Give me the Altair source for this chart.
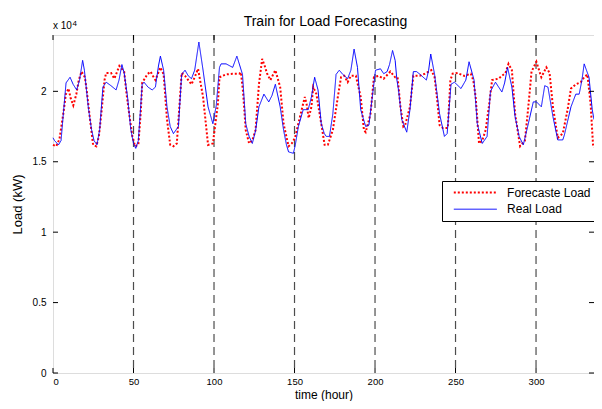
import altair as alt
import pandas as pd

# ---- data (hours, load in thousands of kW) ----
real_hours = [0, 1, 3.4, 5, 6.5, 8.1, 10.6, 12.5, 14.7, 16.5, 18.4, 19.5, 20.8, 22, 23.9, 25.5, 27.3, 29, 31, 33,
              36, 39.2, 41, 42.8, 44.2, 46.3, 48.3, 50, 51.4, 53, 55.4, 56.5, 59, 61.6, 63.6, 65.5, 66.7, 68.7, 70.8, 72.8,
              74.8, 77.9, 79.9, 82, 84, 86, 88, 90.6, 93.2, 96.3, 99.3, 101.4, 103.4, 104.4, 107.5, 111.6, 114.2, 117.7, 119.7, 121.8,
              123.8, 125.8, 127.9, 131, 134, 136, 138.1, 141.1, 143.2, 145, 146.3, 149.3, 150.5, 152.4, 155.4, 158.5, 160.5, 162.5, 164.6, 166.6,
              168.5, 169.7, 171.7, 173.8, 175.8, 177.8, 180, 183, 185, 187, 189.1, 191.1, 194.2, 196.2, 198.3, 200.3, 203.4, 205.4, 207.5, 209,
              210.9, 212.5, 213.6, 214.6, 216.6, 219.7, 221.7, 223.8, 225.8, 228, 231.9, 233.3, 234.6, 237, 240.1, 243.1, 244.8, 247.2, 249.3, 253.4,
              256.4, 258.4, 261.5, 263.5, 266.6, 269.6, 271.7, 274.8, 278.8, 280.5, 282.3, 285, 287, 289.5, 292.1, 295.2, 298.3, 300.3, 303.3, 305.4,
              307.4, 310.5, 313.5, 316.6, 317.6, 321.7, 324.7, 326.8, 328.5, 329.9, 332.9, 334.9, 336]
real_load = [16.7, 16.5, 16.2, 16.5, 18.5, 20.6, 21.0, 20.5, 20.1, 20.8, 22.2, 21.5, 20.1, 18.8, 17.3, 16.5, 16.2, 17.3, 20.3, 20.65,
             20.4, 20.1, 20.8, 21.9, 21.3, 19.6, 17.3, 16.3, 15.95, 16.5, 20.5, 20.65, 20.3, 20.1, 20.3, 21.8, 22.5, 21.5, 18.9, 17.5,
             17.0, 17.5, 21.2, 21.5, 21.1, 20.9, 21.5, 23.5, 21.5, 18.9, 17.7, 19.0, 21.7, 21.95, 21.95, 21.7, 22.5, 21.2, 17.7, 16.8,
             16.3, 17.2, 18.9, 19.8, 19.25, 19.7, 20.5, 18.9, 17.25, 16.2, 15.7, 15.6, 16.2, 17.5, 18.7, 18.7, 19.6, 21.0, 20.1, 17.7,
             17.0, 16.8, 16.8, 18.4, 21.2, 21.5, 21.2, 20.9, 21.5, 23.0, 21.7, 18.7, 17.5, 17.6, 19.6, 21.5, 21.6, 21.25, 21.4, 21.9,
             22.9, 22.2, 20.8, 20.1, 18.0, 17.1, 18.7, 21.4, 21.4, 21.2, 20.8, 21.5, 22.65, 21.2, 18.4, 16.8, 17.0, 20.5, 20.65, 20.2,
             20.8, 22.1, 20.8, 17.7, 16.3, 16.8, 20.0, 20.65, 19.95, 20.6, 21.7, 20.3, 18.2, 16.8, 16.2, 17.7, 19.25, 19.25, 18.9, 20.4,
             20.3, 18.2, 16.55, 16.55, 16.9, 18.9, 19.8, 19.8, 20.8, 21.95, 21.0, 18.7, 18.0]

fc_hours = [0, 2, 4, 6.5, 8, 9.6, 11, 12.6, 14.5, 16, 17.7, 19.8, 21, 22.8, 24.9, 26.9, 28.5, 30, 32, 33,
            36.1, 38.1, 41.2, 44.2, 45.5, 47.3, 49.3, 51, 53, 54.5, 55.4, 58.5, 60.6, 62, 63.6, 66.7, 68.7, 70.8, 72.8, 74.8,
            76.9, 78.9, 79.9, 82, 84, 86, 88, 90.1, 93.2, 96.3, 99.3, 102.4, 103.4, 105.4, 107.5, 111.5, 115.6, 116.7, 118, 119.7,
            121.8, 123.8, 125.8, 127.9, 129.9, 131.5, 133, 135, 138.1, 141.1, 143.2, 146.3, 148.3, 150.3, 153.4, 156.4, 157.5, 158.8, 160.5, 161.6,
            163.6, 166.6, 168.7, 170.7, 173.8, 176.9, 178.9, 180.9, 183, 185, 188.1, 191.1, 193.1, 194.2, 197.2, 199.3, 202.3, 205.4, 209.5, 212.5,
            214, 215.8, 217.6, 218.7, 221.7, 223.8, 227.8, 230.9, 235, 237, 238.5, 240.1, 242.1, 245.2, 246.8, 248.2, 251.3, 255.4, 259.5, 261,
            262.5, 264.6, 266.6, 268.7, 270.7, 272.7, 276.8, 278.8, 281, 282.9, 285, 287, 290.1, 293.1, 295.2, 297.2, 300.2, 303.3, 306.4, 308.4,
            310.5, 313.5, 316.6, 319.6, 321.7, 324.7, 327.8, 329.9, 331.9, 333.9, 335.4, 336]
fc_load = [16.2, 16.1, 16.6, 18.5, 19.8, 20.2, 19.5, 19.0, 19.8, 20.8, 21.4, 21.0, 20.0, 18.2, 16.2, 16.1, 16.8, 18.4, 20.8, 21.3,
           21.3, 20.9, 21.8, 21.4, 20.0, 18.4, 16.8, 16.1, 16.2, 18.5, 20.6, 21.2, 21.4, 21.1, 20.8, 21.7, 21.2, 18.0, 16.2, 16.1,
           16.3, 19.6, 21.3, 21.1, 20.8, 20.5, 21.0, 21.6, 19.6, 16.2, 16.3, 19.1, 21.0, 21.1, 21.2, 21.25, 21.25, 21.35, 20.0, 17.25,
           16.3, 16.5, 17.25, 20.5, 22.3, 21.8, 21.25, 20.8, 21.5, 20.3, 17.7, 16.1, 16.3, 16.7, 18.2, 19.6, 19.1, 18.1, 18.9, 20.3,
           19.8, 17.7, 16.2, 16.2, 17.25, 19.6, 21.0, 21.1, 20.65, 21.1, 21.1, 19.6, 17.25, 17.1, 18.4, 21.0, 21.1, 20.9, 21.4, 21.0,
           21.0, 18.9, 17.5, 17.6, 18.9, 21.1, 21.1, 21.25, 21.5, 21.0, 19.5, 17.6, 17.4, 17.4, 20.8, 21.25, 21.3, 21.1, 21.25, 20.8,
           19.6, 16.3, 16.5, 17.25, 18.9, 20.8, 20.9, 21.1, 21.3, 21.95, 21.5, 18.4, 16.1, 16.5, 18.9, 21.4, 22.1, 21.0, 21.7, 21.3,
           18.9, 16.7, 17.0, 18.7, 20.2, 20.5, 20.65, 21.0, 21.2, 19.1, 16.2, 16.0]

series_names = ["Forecaste Load", "Real Load"]
x_ticks = [0, 50, 100, 150, 200, 250, 300]
y_ticks = [0, 5000, 10000, 15000, 20000]
dash_hours = [50, 100, 150, 200, 250, 300]
title_text = ["Train for Load Forecasting"]

W, H = 541, 338
FONT = "Liberation Sans"

df = pd.concat([
    pd.DataFrame({"hour": fc_hours, "load": [v * 1000 for v in fc_load], "series": series_names[0]}),
    pd.DataFrame({"hour": real_hours, "load": [v * 1000 for v in real_load], "series": series_names[1]}),
], ignore_index=True)

xscale = alt.Scale(domain=[0, 336], nice=False, zero=False)
yscale = alt.Scale(domain=[0, 24000], nice=False)

lines = alt.Chart(df).mark_line(strokeCap="butt").encode(
    x=alt.X("hour:Q", scale=xscale,
            axis=alt.Axis(values=x_ticks, title="time (hour)", grid=False, ticks=False, domain=False,
                          labelFontSize=9.5, labelPadding=3, titleFontSize=12, titleFontWeight="normal",
                          titleY=25, titleBaseline="alphabetic",
                          labelColor="black", titleColor="black", labelFont=FONT, titleFont=FONT)),
    y=alt.Y("load:Q", scale=yscale,
            axis=alt.Axis(values=y_ticks, title="Load (kW)", grid=False, ticks=False, domain=False,
                          labelExpr="datum.value / 10000", labelFontSize=10, labelPadding=7,
                          titleFontSize=13, titleFontWeight="normal", titlePadding=8,
                          labelColor="black", titleColor="black", labelFont=FONT, titleFont=FONT)),
    color=alt.Color("series:N", scale=alt.Scale(domain=series_names, range=["#ff0000", "#0000ff"]),
                    legend=alt.Legend(title=None, orient="none", legendX=389, legendY=146,
                                      symbolType="stroke", symbolSize=1849, clipHeight=13, rowPadding=3.7,
                                      symbolOffset=5.8, labelOffset=9.3, padding=5,
                                      strokeColor="black", fillColor="white", labelFontSize=12,
                                      labelFont=FONT, labelColor="black", cornerRadius=0)),
    strokeDash=alt.StrokeDash("series:N", scale=alt.Scale(domain=series_names, range=[[2, 2], [1, 0]]), legend=None),
    strokeWidth=alt.StrokeWidth("series:N", scale=alt.Scale(domain=series_names, range=[2, 1]), legend=None),
)

dash_df = pd.DataFrame({"hour": dash_hours})
vlines = alt.Chart(dash_df).mark_rule(color="#4d4d4d", strokeWidth=1.2, strokeDash=[8, 5]).encode(
    x=alt.X("hour:Q", scale=xscale)
)

xt_df = pd.DataFrame({"hour": x_ticks})
yt_df = pd.DataFrame({"load": y_ticks})
tick_bottom = alt.Chart(xt_df).mark_rule(color="black").encode(
    x=alt.X("hour:Q", scale=xscale), y=alt.value(H), y2=alt.value(H - 5))
tick_top = alt.Chart(xt_df).mark_rule(color="black").encode(
    x=alt.X("hour:Q", scale=xscale), y=alt.value(0), y2=alt.value(5))
tick_left = alt.Chart(yt_df).mark_rule(color="black").encode(
    y=alt.Y("load:Q", scale=yscale), x=alt.value(0), x2=alt.value(5))
tick_right = alt.Chart(yt_df).mark_rule(color="black").encode(
    y=alt.Y("load:Q", scale=yscale), x=alt.value(W), x2=alt.value(W - 5))

exp_base = alt.Chart(pd.DataFrame({"t": ["x 10"]})).mark_text(
    align="left", baseline="alphabetic", fontSize=10, font=FONT, color="black"
).encode(text="t:N", x=alt.value(0), y=alt.value(-6))
exp_pow = alt.Chart(pd.DataFrame({"t": ["4"]})).mark_text(
    align="left", baseline="alphabetic", fontSize=8, font=FONT, color="black"
).encode(text="t:N", x=alt.value(19.5), y=alt.value(-9))

title_mark = alt.Chart(pd.DataFrame({"t": title_text})).mark_text(
    align="center", baseline="alphabetic", fontSize=14, font=FONT, color="black"
).encode(text="t:N", x=alt.value(W / 2 + 2), y=alt.value(-9.5))

chart = alt.layer(vlines, lines, tick_bottom, tick_top, tick_left, tick_right,
                  exp_base, exp_pow, title_mark).properties(
    width=W, height=H,
    autosize=alt.AutoSizeParams(type="none"),
    padding={"left": 45, "top": 27, "right": 0, "bottom": 28},
).configure_view(stroke="black", strokeWidth=1).configure(background="white")

chart.save("out.html", embed_options={"renderer": "svg", "actions": False})
